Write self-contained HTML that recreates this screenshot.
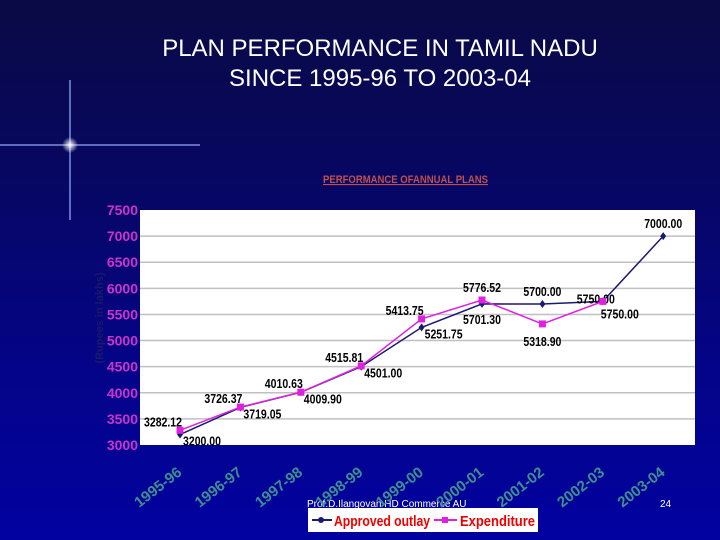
<!DOCTYPE html>
<html><head><meta charset="utf-8"><style>
html,body{margin:0;padding:0;}
body{width:720px;height:540px;overflow:hidden;background:linear-gradient(180deg,#0a0a45 0%,#070760 30%,#04048a 70%,#0202a0 100%);font-family:"Liberation Sans",sans-serif;position:relative;}
.title{position:absolute;left:0;width:760px;top:34px;text-align:center;color:#fff;font-size:24px;line-height:30px;}
</style></head><body>
<div class="title">PLAN PERFORMANCE IN TAMIL NADU<br>SINCE 1995-96 TO 2003-04</div>
<svg id="c" width="720" height="540" style="position:absolute;left:0;top:0">
<defs><radialGradient id="g"><stop offset="0" stop-color="#fff"/><stop offset="1" stop-color="#fff" stop-opacity="0"/></radialGradient></defs>
<g>
<rect x="0" y="144" width="200" height="2" fill="#9bb0ff" opacity="0.6"/>
<rect x="69" y="80" width="2" height="140" fill="#9bb0ff" opacity="0.6"/>
<circle cx="70" cy="145" r="8" fill="url(#g)"/>
</g>
<text x="323" y="183" textLength="165" lengthAdjust="spacingAndGlyphs" fill="#c0504d" font-size="11" font-weight="bold" text-decoration="underline">PERFORMANCE OFANNUAL PLANS</text>
<rect x="140" y="210" width="555" height="235" fill="#fff"/>
<g id="grid"></g><g id="lines"></g>
<text transform="translate(103,318) rotate(-90)" text-anchor="middle" fill="#1a1a6a" font-size="11" font-weight="bold">(Rupees in lakhs)</text>
<rect x="308" y="508" width="230" height="24" fill="#fff"/>
<g>
<line x1="312" y1="520" x2="332" y2="520" stroke="#1a1a70" stroke-width="2"/><circle cx="321" cy="520" r="3" fill="#1a1a70"/>
<text x="334" y="526" textLength="96" lengthAdjust="spacingAndGlyphs" fill="#e00" font-size="15" font-weight="bold">Approved outlay</text></g>
<g>
<line x1="434" y1="520" x2="457" y2="520" stroke="#e020e0" stroke-width="2"/><rect x="442" y="517" width="6" height="6" fill="#e020e0"/>
<text x="460" y="526" textLength="75" lengthAdjust="spacingAndGlyphs" fill="#e00" font-size="15" font-weight="bold">Expenditure</text></g>
<text x="307" y="507" fill="#fff" font-size="10">Prof.D.Ilangovan HD Commerce AU</text>
<text x="660" y="507" fill="#fff" font-size="10">24</text>
</svg>
<script>
const categories=["1995-96","1996-97","1997-98","1998-99","1999-00","2000-01","2001-02","2002-03","2003-04"];
const outlay=[3200.00,3719.05,4009.90,4501.00,5251.75,5701.30,5700.00,5750.00,7000.00];
const expenditure=[3282.12,3726.37,4010.63,4515.81,5413.75,5776.52,5318.90,5750.00];
const yTicks=[3000,3500,4000,4500,5000,5500,6000,6500,7000,7500];
const outlayPos=["br","br","br","br","br","b2","t","tl2","t"];
const expPos=["tl","tl","tl","tl","tl","t","b","brb"];
const NS="http://www.w3.org/2000/svg",svg=document.getElementById('c');
const X=i=>180+i*60.4, Y=v=>445-(v-3000)/4500*235;
function el(t,a,p){const e=document.createElementNS(NS,t);for(const k in a)e.setAttribute(k,a[k]);(p||svg).appendChild(e);return e;}
const grid=document.getElementById('grid'),lines=document.getElementById('lines');
yTicks.forEach(v=>{
 if(v>3000&&v<7500){const l=el('line',{x1:140,x2:695,y1:Y(v),y2:Y(v),stroke:'#c0c0c0','stroke-width':1.5},grid);
 
 }
 const t=el('text',{x:138,y:Y(v)+5,'text-anchor':'end',fill:'#cc33cc','font-size':14,'font-weight':'bold'});
 t.textContent=v;
 
 
});
categories.forEach((c,i)=>{
 const t=el('text',{transform:`translate(${X(i)-19},${491}) rotate(-38)`,'text-anchor':'middle',fill:'#3f8f8f','font-size':15,'font-weight':'bold'});
 t.textContent=c;
 
 
});
function series(vals,col,name,marker,pos){
 const p=el('polyline',{points:vals.map((v,i)=>X(i)+','+Y(v)).join(' '),fill:'none',stroke:col,'stroke-width':1.5},lines);
 
 
 vals.forEach((v,i)=>{
  let m;
  if(marker==='d')m=el('polygon',{points:`${X(i)},${Y(v)-4} ${X(i)+3},${Y(v)} ${X(i)},${Y(v)+4} ${X(i)-3},${Y(v)}`,fill:col},lines);
  else m=el('rect',{x:X(i)-3.5,y:Y(v)-3.5,width:7,height:7,fill:col},lines);
  
  
  const ps=pos[i];let x=X(i),y=Y(v),a='start';
  if(ps==='br'){x+=3;y+=11;}
  else if(ps==='brb'){x-=2;y+=17;}
  else if(ps==='tl'){x+=2;y-=4;a='end';}
  else if(ps==='tl2'){x+=12;y+=2;a='end';}
  else if(ps==='t'){y-=8;a='middle';}
  else if(ps==='b'){y+=22;a='middle';}
  else if(ps==='b2'){y+=20;a='middle';}
  const t=el('text',{x:x,y:y,'text-anchor':a,fill:'#000','font-size':13,'font-weight':'bold',textLength:38,lengthAdjust:'spacingAndGlyphs'},lines);
  t.textContent=v.toFixed(2);
  
  
 });
}
series(outlay,'#1a1a70','outlay','d',outlayPos);
series(expenditure,'#e020e0','expenditure','s',expPos);
</script>
</body></html>
